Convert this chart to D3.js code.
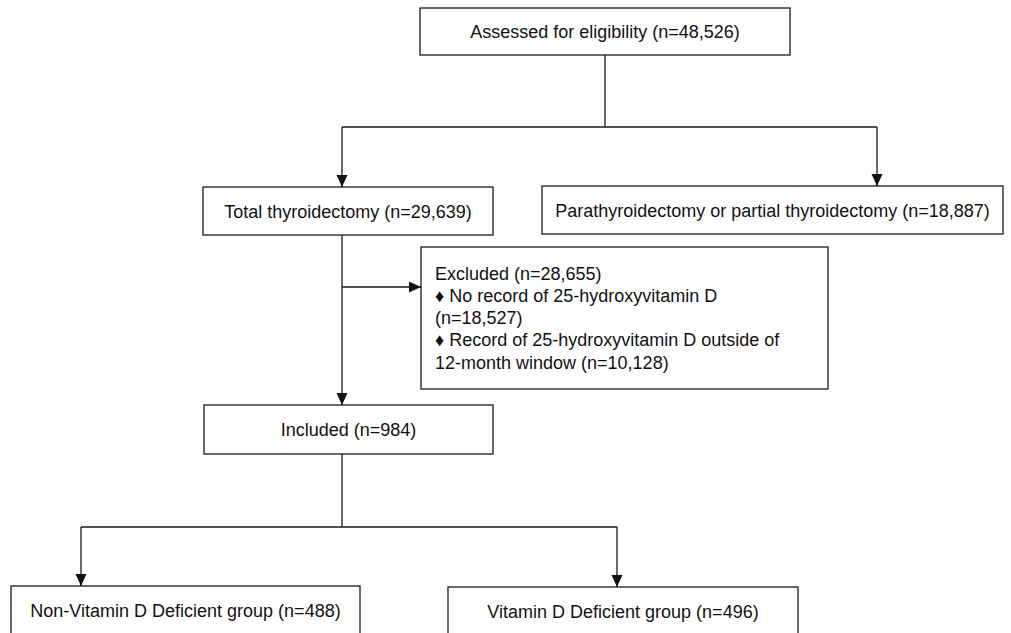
<!DOCTYPE html>
<html>
<head>
    <style>
        body { margin: 0; background: #fff; }
        .box rect { fill: #fff; stroke: #1a1a1a; stroke-width: 1.3; }
        .box text, .excl text { font: 18px "Liberation Sans", Arial, sans-serif; fill: #111; }
        .link { fill: none; stroke: #1a1a1a; stroke-width: 1.3; }
        .head { fill: #111; }
    </style>
    <script src="https://d3js.org/d3.v7.min.js"></script>
</head>
<body>
    <svg width="1011" height="633"></svg>
    <script>

        // flow stages and their counts
        var stageIds = ["assessed", "total", "para", "included", "nonDef", "def"];
        var stageLabels = ["Assessed for eligibility", "Total thyroidectomy",
                           "Parathyroidectomy or partial thyroidectomy", "Included",
                           "Non-Vitamin D Deficient group", "Vitamin D Deficient group"];
        var stageCounts = [48526, 29639, 18887, 984, 488, 496];

        // exclusion box
        var excludedCount = 28655;
        var excludedReasons = [["No record of 25-hydroxyvitamin D", ""],
                               ["Record of 25-hydroxyvitamin D outside of", "12-month window "]];
        var excludedReasonCounts = [18527, 10128];

        var fmt = d3.format(",");

        // layout (pixels)
        var layout = {
            assessed: {x: 420, y: 8, w: 370, h: 47},
            total:    {x: 203, y: 187, w: 290, h: 48},
            para:     {x: 542, y: 186, w: 461, h: 48},
            included: {x: 204, y: 405, w: 289, h: 49},
            nonDef:   {x: 11, y: 586, w: 349, h: 48},
            def:      {x: 448, y: 587, w: 350, h: 48},
            excluded: {x: 421, y: 247, w: 407, h: 142}
        };

        var svg = d3.select("svg");

        var nodes = stageIds.map(function(id, i) {
            return {id: id, label: stageLabels[i] + " (n=" + fmt(stageCounts[i]) + ")", box: layout[id]};
        });

        var g = svg.selectAll(".box")
                   .data(nodes)
                   .enter().append("g")
                   .attr("class", "box");

        g.append("rect")
         .attr("x", function(d) { return d.box.x; })
         .attr("y", function(d) { return d.box.y; })
         .attr("width", function(d) { return d.box.w; })
         .attr("height", function(d) { return d.box.h; });

        g.append("text")
         .attr("x", function(d) { return d.box.x + d.box.w / 2; })
         .attr("y", function(d) { return d.box.y + d.box.h / 2 + 6.5; })
         .attr("text-anchor", "middle")
         .text(function(d) { return d.label; });

        // excluded box
        var ex = layout.excluded;
        var exLines = ["Excluded (n=" + fmt(excludedCount) + ")"];
        excludedReasons.forEach(function(r, i) {
            var c = "(n=" + fmt(excludedReasonCounts[i]) + ")";
            exLines.push("\u2666 " + r[0]);
            exLines.push(r[1] + c);
        });

        var eg = svg.append("g").attr("class", "box excl");
        eg.append("rect")
          .attr("x", ex.x).attr("y", ex.y)
          .attr("width", ex.w).attr("height", ex.h);
        eg.selectAll("text")
          .data(exLines)
          .enter().append("text")
          .attr("x", ex.x + 14)
          .attr("y", function(d, i) { return ex.y + 32.5 + i * 22.3; })
          .text(function(d) { return d; });

        // connectors
        function cx(b) { return b.x + b.w / 2; }
        var L = layout;
        var split1 = 127, split2 = 527;
        var arrowX1 = L.total.x + 139, arrowX2 = L.para.x + 335;
        var arrowX3 = L.nonDef.x + 70, arrowX4 = L.def.x + 169;

        var links = [
            [[cx(L.assessed), L.assessed.y + L.assessed.h], [cx(L.assessed), split1]],
            [[arrowX1, split1], [arrowX2, split1]],
            [[arrowX1, split1], [arrowX1, L.total.y], "v"],
            [[arrowX2, split1], [arrowX2, L.para.y], "v"],
            [[arrowX1, L.total.y + L.total.h], [arrowX1, L.included.y], "v"],
            [[arrowX1, 287], [L.excluded.x, 287], "h"],
            [[arrowX1, L.included.y + L.included.h], [arrowX1, split2]],
            [[arrowX3, split2], [arrowX4, split2]],
            [[arrowX3, split2], [arrowX3, L.nonDef.y], "v"],
            [[arrowX4, split2], [arrowX4, L.def.y], "v"]
        ];

        var line = d3.line();
        svg.selectAll(".link")
           .data(links)
           .enter().append("path")
           .attr("class", "link")
           .attr("d", function(d) { return line([d[0], d[1]]); });

        // arrow heads
        svg.selectAll(".head")
           .data(links.filter(function(d) { return d[2]; }))
           .enter().append("path")
           .attr("class", "head")
           .attr("d", function(d) {
               var p = d[1];
               if (d[2] === "v") {
                   return "M" + (p[0] - 5.5) + "," + (p[1] - 12) + "L" + (p[0] + 5.5) + "," + (p[1] - 12) + "L" + p[0] + "," + p[1] + "Z";
               }
               return "M" + (p[0] - 12) + "," + (p[1] - 5.5) + "L" + (p[0] - 12) + "," + (p[1] + 5.5) + "L" + p[0] + "," + p[1] + "Z";
           });
    </script>
</body>
</html>
